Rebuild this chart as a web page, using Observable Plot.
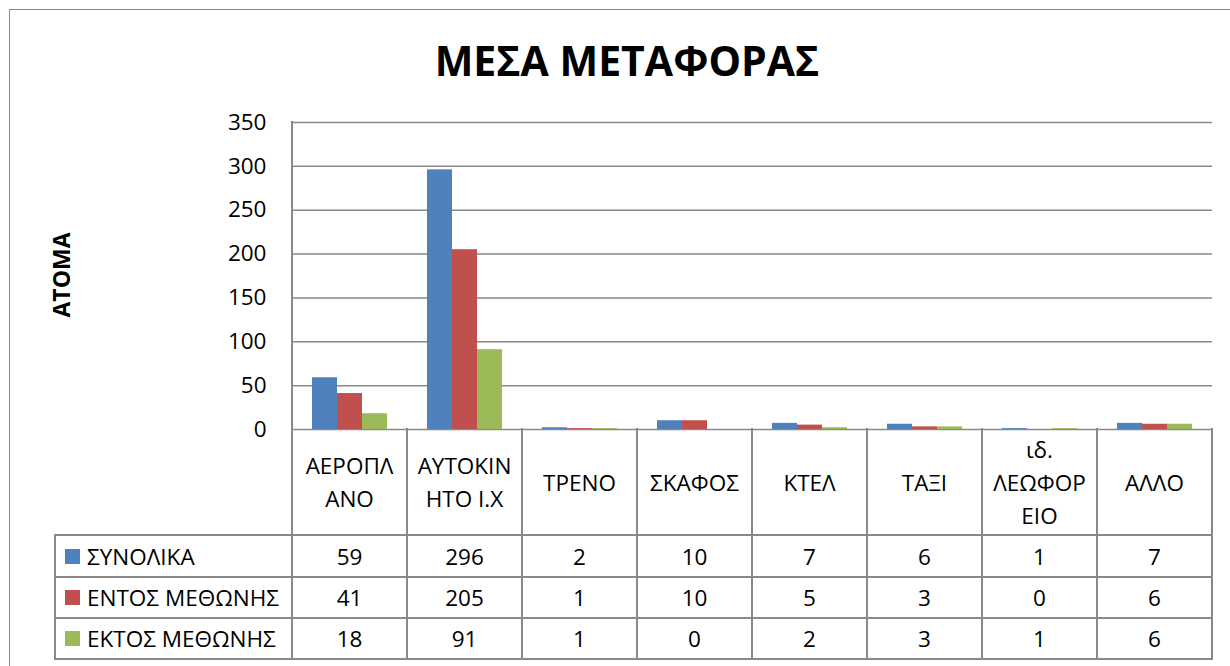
<!DOCTYPE html>
<html>
<head>
<meta charset="utf-8">
<script src="https://cdn.jsdelivr.net/npm/d3@7"></script>
<script src="https://cdn.jsdelivr.net/npm/@observablehq/plot@0.6"></script>
<style>
  html, body { margin: 0; padding: 0; background: #fff; }
  #root { position: relative; width: 1230px; height: 666px; overflow: hidden; font-family: "Open Sans", sans-serif; color: #000; }
  .abs { position: absolute; }
  .hl { position: absolute; height: 1.5px; background: #898989; }
  .vl { position: absolute; width: 1.5px; background: #898989; }
  .cell { position: absolute; display: flex; align-items: center; justify-content: center; text-align: center; font-size: 22.5px; line-height: 33px; white-space: pre; }
</style>
</head>
<body>
<div id="root"></div>
<script>
// ---- data ----
const categories = ["ΑΕΡΟΠΛΑΝΟ", "ΑΥΤΟΚΙΝΗΤΟ Ι.Χ", "ΤΡΕΝΟ", "ΣΚΑΦΟΣ", "ΚΤΕΛ", "ΤΑΞΙ", "ιδ. ΛΕΩΦΟΡΕΙΟ", "ΑΛΛΟ"];
const headerLabels = ["ΑΕΡΟΠΛ\nΑΝΟ", "ΑΥΤΟΚΙΝ\nΗΤΟ Ι.Χ", "ΤΡΕΝΟ", "ΣΚΑΦΟΣ", "ΚΤΕΛ", "ΤΑΞΙ", "ιδ.\nΛΕΩΦΟΡ\nΕΙΟ", "ΑΛΛΟ"];
const seriesNames = ["ΣΥΝΟΛΙΚΑ", "ΕΝΤΟΣ ΜΕΘΩΝΗΣ", "ΕΚΤΟΣ ΜΕΘΩΝΗΣ"];
const synolika = [59, 296, 2, 10, 7, 6, 1, 7];
const entos = [41, 205, 1, 10, 5, 3, 0, 6];
const ektos = [18, 91, 1, 0, 2, 3, 1, 6];
const seriesColors = ["#4F81BD", "#C0504D", "#9BBB59"];
const yTicks = [0, 50, 100, 150, 200, 250, 300, 350];
const titleText = "ΜΕΣΑ ΜΕΤΑΦΟΡΑΣ";
const yLabel = "ΑΤΟΜΑ";

const seriesValues = [synolika, entos, ektos];
const data = [];
categories.forEach((c, i) => seriesNames.forEach((s, j) => data.push({cat: c, series: s, value: seriesValues[j][i]})));

const root = document.getElementById("root");

// outer frame
const frame = document.createElement("div");
frame.className = "abs";
Object.assign(frame.style, {left: "9px", top: "9px", width: "1300px", height: "700px", border: "1.5px solid #898989"});
root.appendChild(frame);

const chart = Plot.plot({
  width: 1230,
  height: 430,
  marginTop: 122,
  marginBottom: 1,
  marginLeft: 289,
  marginRight: 16,
  style: {fontFamily: "Open Sans", fontSize: "22.5px", color: "#000", background: "transparent", overflow: "visible"},
  fx: {domain: categories, padding: 0, axis: null},
  x: {domain: seriesNames, paddingInner: 0, paddingOuter: 0.75, axis: null},
  y: {domain: [0, 350], ticks: yTicks, tickSize: 0, tickPadding: 26, label: null},
  color: {domain: seriesNames, range: seriesColors},
  marks: [
    Plot.ruleY(yTicks, {stroke: "#898989", strokeWidth: 1.5}),
    Plot.barY(data, {fx: "cat", x: "series", y: "value", fill: "series"})
  ]
});
chart.style.position = "absolute";
chart.style.left = "0px";
chart.style.top = "0px";
root.appendChild(chart);

// title
const title = document.createElement("div");
title.className = "abs";
title.textContent = titleText;
Object.assign(title.style, {left: "327px", width: "600px", top: "39px", textAlign: "center", fontWeight: "bold", fontSize: "41px", lineHeight: "42px"});
root.appendChild(title);

// y label
const yl = document.createElement("div");
yl.className = "abs";
yl.textContent = yLabel;
Object.assign(yl.style, {left: "61px", top: "275px", transform: "translate(-50%, -50%) rotate(-90deg)", fontWeight: "bold", fontSize: "23px", lineHeight: "23px", whiteSpace: "nowrap"});
root.appendChild(yl);

// data table, aligned on the chart's scales
const fx = chart.scale("fx");
const y = chart.scale("y");
const bw = fx.bandwidth;
const x0 = fx.apply(categories[0]);
const colEdges = categories.map(c => fx.apply(c)).concat([fx.apply(categories[categories.length - 1]) + bw]);
const tableLeft = 55;
const top0 = y.apply(0);
const rowEdges = [top0, 535, 577, 618, 659];

function hline(x1, x2, yy) {
  const d = document.createElement("div"); d.className = "hl";
  Object.assign(d.style, {left: x1 - 0.75 + "px", top: yy - 0.75 + "px", width: (x2 - x1 + 1.5) + "px"});
  root.appendChild(d);
}
function vline(xx, y1, y2) {
  const d = document.createElement("div"); d.className = "vl";
  Object.assign(d.style, {left: xx - 0.75 + "px", top: y1 - 0.75 + "px", height: (y2 - y1 + 1.5) + "px"});
  root.appendChild(d);
}
function cell(x1, x2, y1, y2, text, extra) {
  const d = document.createElement("div"); d.className = "cell";
  Object.assign(d.style, {left: x1 + "px", top: y1 + "px", width: (x2 - x1) + "px", height: (y2 - y1) + "px"}, extra || {});
  d.textContent = text;
  root.appendChild(d);
  return d;
}

const right = colEdges[colEdges.length - 1];
for (let r = 1; r < rowEdges.length; r++) hline(tableLeft, right, rowEdges[r]);
vline(tableLeft, rowEdges[1], rowEdges[4]);
vline(x0, y.apply(350), rowEdges[4]);
for (let k = 1; k < colEdges.length; k++) vline(colEdges[k], rowEdges[0], rowEdges[4]);

categories.forEach((c, i) => cell(colEdges[i], colEdges[i] + bw, rowEdges[0], rowEdges[1], headerLabels[i]));

const color = chart.scale("color");
seriesNames.forEach((s, j) => {
  const d = cell(tableLeft, x0, rowEdges[j + 1], rowEdges[j + 2], "", {justifyContent: "flex-start"});
  const sw = document.createElement("span");
  Object.assign(sw.style, {display: "inline-block", width: "15px", height: "15px", background: color.apply(s), marginLeft: "10px", marginRight: "7px"});
  const tx = document.createElement("span");
  tx.textContent = s;
  d.appendChild(sw); d.appendChild(tx);
  categories.forEach((c, i) => cell(colEdges[i], colEdges[i] + bw, rowEdges[j + 1], rowEdges[j + 2], String(seriesValues[j][i])));
});
</script>
</body>
</html>
